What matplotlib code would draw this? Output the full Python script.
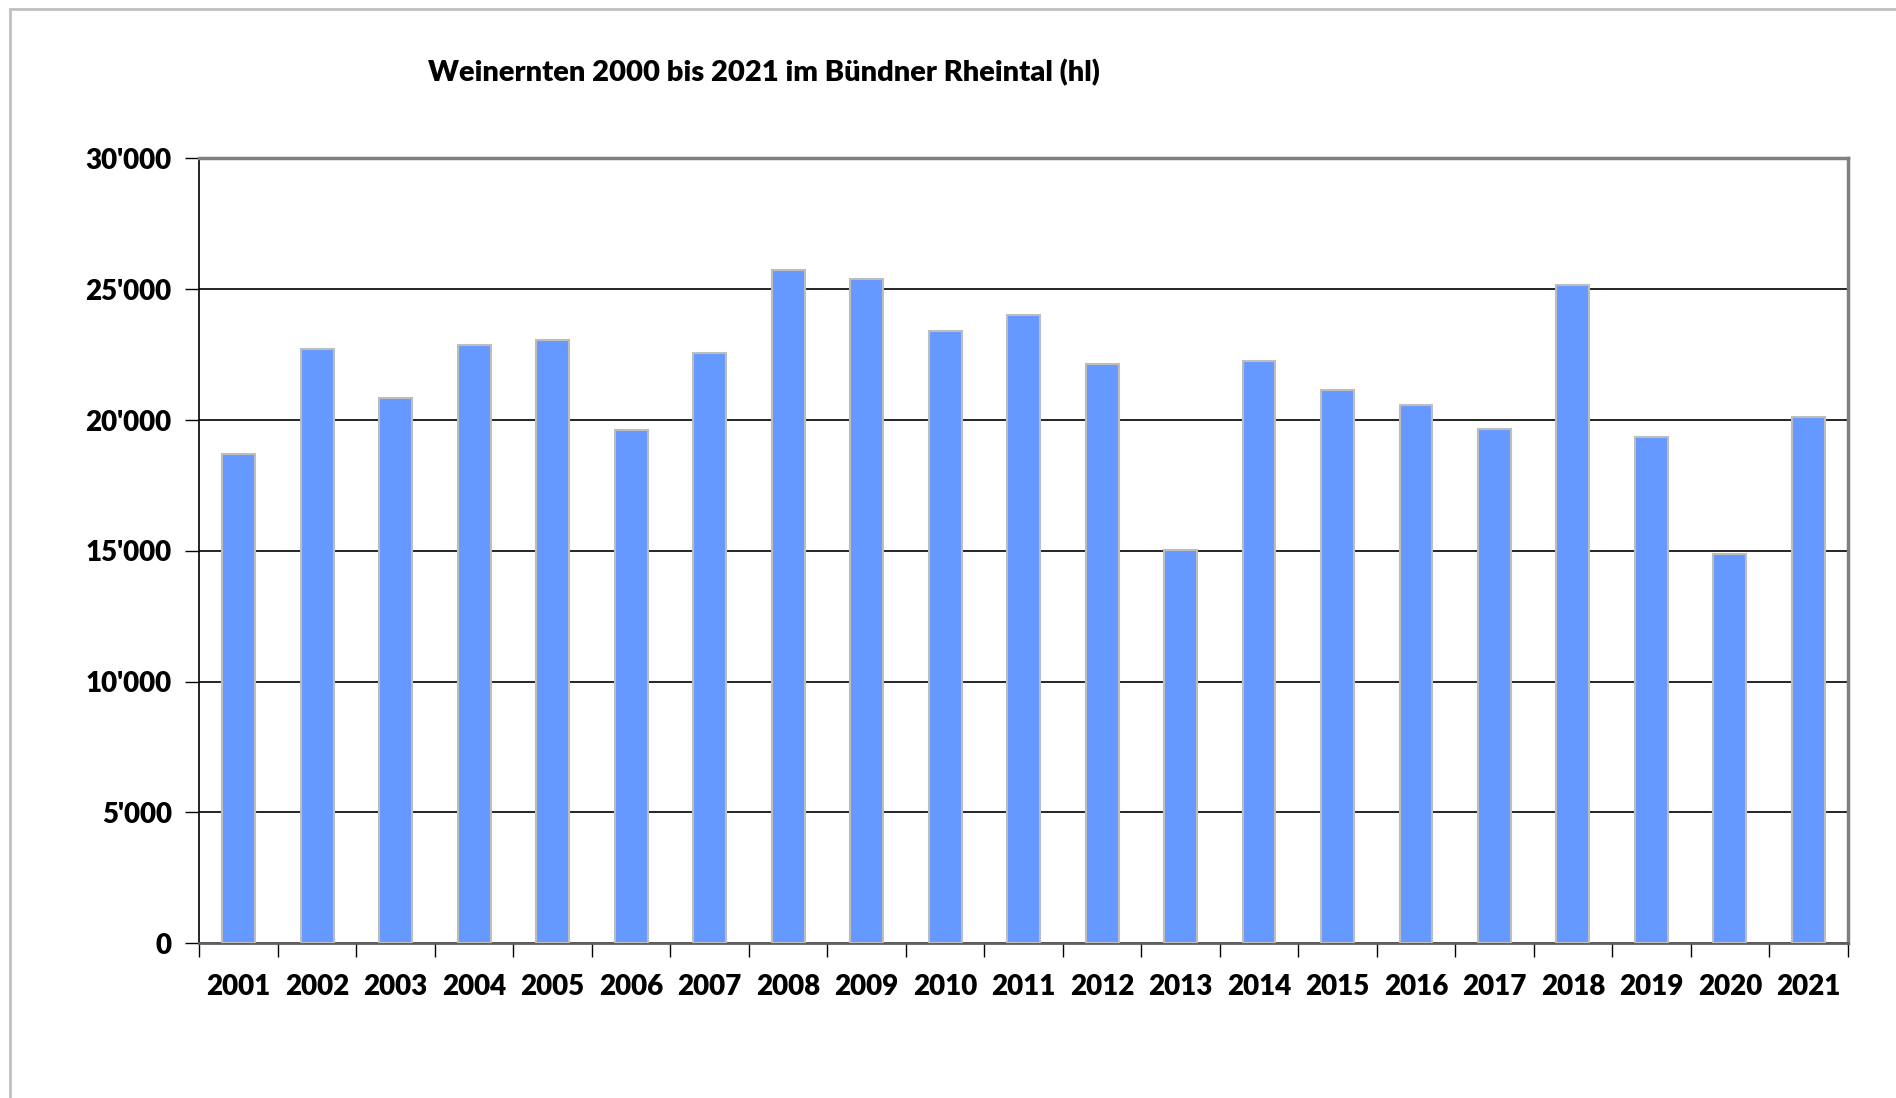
import matplotlib.pyplot as plt
from matplotlib.ticker import FuncFormatter, FixedLocator
from matplotlib.patches import Rectangle

years = ['2001', '2002', '2003', '2004', '2005', '2006', '2007', '2008', '2009', '2010', '2011',
         '2012', '2013', '2014', '2015', '2016', '2017', '2018', '2019', '2020', '2021']
harvest_hl = [18700, 22720, 20860, 22870, 23050, 19630, 22560, 25740, 25410, 23400, 24000,
              22160, 15050, 22270, 21150, 20560, 19640, 25170, 19340, 14870, 20130]
title = 'Weinernten 2000 bis 2021 im Bündner Rheintal (hl)'

plt.rcParams['font.family'] = ['Lato', 'DejaVu Sans']
plt.rcParams['font.weight'] = 'heavy'

fig = plt.figure(figsize=(18.96, 10.98), dpi=100)
ax = fig.add_axes([0.1052, 0.141, 0.8693, 0.7147])

# light grey chart border, cut off at right and bottom like the original
fig.patches.append(Rectangle((0.0055, -0.05), 1.1, 0.05 + 0.9915, transform=fig.transFigure,
                             fill=False, edgecolor='#c0c0c0', linewidth=2))

x = range(len(years))
ax.bar(x, harvest_hl, width=0.42, color='#6699ff', edgecolor='#bdbdbd', linewidth=1.5, zorder=3)

ax.set_xlim(-0.5, len(years) - 0.5)
ax.set_ylim(0, 30000)
ax.set_yticks(range(0, 30001, 5000))
ax.yaxis.set_major_formatter(FuncFormatter(lambda v, p: f"{int(v):,}".replace(',', "'")))
ax.set_xticks(list(x))
ax.set_xticklabels(years)
ax.xaxis.set_minor_locator(FixedLocator([i - 0.5 for i in range(len(years) + 1)]))
ax.tick_params(axis='x', which='major', length=0, pad=22, labelsize=20)
ax.tick_params(axis='x', which='minor', length=10, width=1, color='black', direction='out')
ax.tick_params(axis='y', length=10, width=1, pad=10, labelsize=20, direction='out')

ax.grid(axis='y', color='black', linewidth=1.2, zorder=1)
ax.spines['left'].set_color('black')
ax.spines['left'].set_linewidth(1.2)
ax.spines['bottom'].set_color('#606060')
ax.spines['bottom'].set_linewidth(2)
for s in ['top', 'right']:
    ax.spines[s].set_color('#808080')
    ax.spines[s].set_linewidth(2.5)

fig.text(0.403, 0.934, title, ha='center', va='center', fontsize=21, fontweight='heavy')

plt.savefig('out.png', dpi=100)
